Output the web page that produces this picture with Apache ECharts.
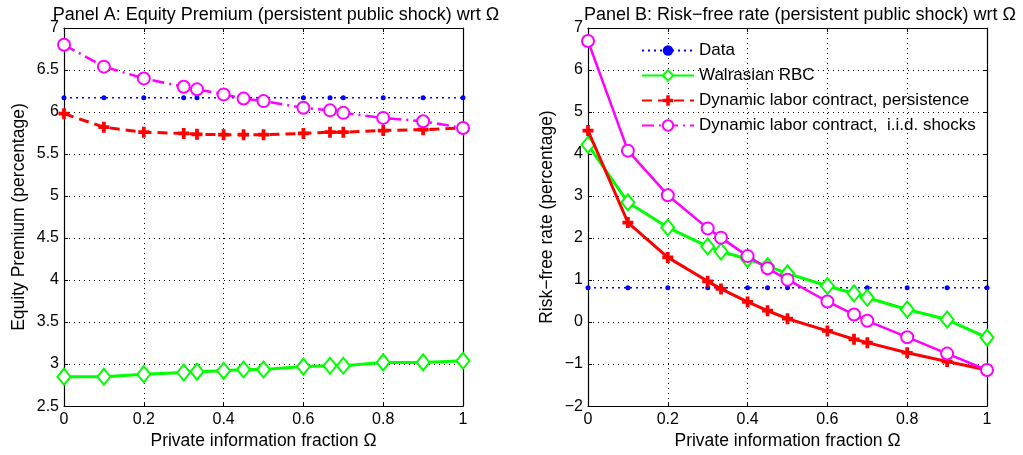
<!DOCTYPE html>
<html>
<head>
<meta charset="utf-8">
<script src="https://cdn.jsdelivr.net/npm/echarts@6/dist/echarts.min.js"></script>
<style>html,body{margin:0;padding:0;background:#fff}#c{width:1023px;height:455px}</style>
</head>
<body>
<div id="c"></div>
<script>
var omega = [0, 0.1, 0.2, 0.3, 0.3333, 0.4, 0.45, 0.5, 0.6, 0.6667, 0.7, 0.8, 0.9, 1];
var xTicks = [0, 0.2, 0.4, 0.6, 0.8, 1];
var seriesNames = ['Data', 'Walrasian RBC', 'Dynamic labor contract, persistence', 'Dynamic labor contract,  i.i.d. shocks'];

// Panel A: Equity premium
var epData = 6.17;
var epRBC = [2.85, 2.85, 2.88, 2.90, 2.91, 2.92, 2.935, 2.935, 2.97, 2.98, 2.98, 3.02, 3.02, 3.04];
var epPersist = [5.98, 5.82, 5.76, 5.745, 5.735, 5.73, 5.73, 5.73, 5.745, 5.76, 5.76, 5.78, 5.79, 5.81];
var epIid = [6.80, 6.54, 6.40, 6.30, 6.27, 6.21, 6.16, 6.13, 6.05, 6.02, 5.99, 5.93, 5.89, 5.81];

// Panel B: Risk-free rate
var rfData = 0.82;
var rfRBC = [4.22, 2.85, 2.25, 1.80, 1.68, 1.50, 1.33, 1.16, 0.86, 0.68, 0.58, 0.30, 0.06, -0.37];
var rfPersist = [4.56, 2.37, 1.54, 0.97, 0.79, 0.48, 0.27, 0.08, -0.21, -0.41, -0.49, -0.73, -0.94, -1.14];
var rfIid = [6.69, 4.08, 3.02, 2.23, 2.01, 1.57, 1.28, 1.01, 0.49, 0.18, 0.03, -0.36, -0.75, -1.14];

function pairs(ys) { return omega.map(function (x, i) { return [x, ys[i]]; }); }
function flat(v) { return omega.map(function (x) { return [x, v]; }); }

var FONT = 'Liberation Sans, Arial, sans-serif';
var plusPath = 'path://M3.3,0H6.7V3.3H10V6.7H6.7V10H3.3V6.7H0V3.3H3.3Z';
var grid = [
  {left: 64, right: 1023 - 463, top: 28, bottom: 455 - 407},
  {left: 588, right: 1023 - 987, top: 28, bottom: 455 - 407}
];

function xAx(gi, main) {
  return {
    type: 'value', gridIndex: gi, min: 0, max: 1, interval: 0.2,
    position: main ? 'bottom' : 'top',
    name: main ? 'Private information fraction Ω' : '',
    nameLocation: 'middle', nameGap: 24,
    nameTextStyle: {fontFamily: FONT, fontSize: 17.5, color: '#000'},
    axisLine: {show: true, onZero: false, lineStyle: {color: '#000', width: 1.2}},
    axisTick: {show: true, inside: true, length: 4, lineStyle: {color: '#000'}},
    axisLabel: {show: main, fontFamily: FONT, fontSize: 16, color: '#000', margin: 5,
      formatter: function (v) { return String(v); }},
    splitLine: {show: main, lineStyle: {color: '#000', type: [1, 4], width: 1}}
  };
}
function yAx(gi, main, min, max, interval, name, gap) {
  return {
    type: 'value', gridIndex: gi, min: min, max: max, interval: interval,
    position: main ? 'left' : 'right',
    name: main ? name : '',
    nameLocation: 'middle', nameGap: gap,
    nameTextStyle: {fontFamily: FONT, fontSize: 17.5, color: '#000'},
    axisLine: {show: true, onZero: false, lineStyle: {color: '#000', width: 1.2}},
    axisTick: {show: true, inside: true, length: 4, lineStyle: {color: '#000'}},
    axisLabel: {show: main, fontFamily: FONT, fontSize: 16, color: '#000', margin: 5,
      formatter: function (v) { return v < 0 ? '\u2212' + Math.abs(v) : String(v); }},
    splitLine: {show: main, lineStyle: {color: '#000', type: [1, 4], width: 1}}
  };
}

function mk(name, data, xi, yi, kind, lineType) {
  var s = {name: name, type: 'line', xAxisIndex: xi, yAxisIndex: yi, data: data, clip: false, animation: false};
  if (kind === 'data') {
    s.lineStyle = {color: '#0000ff', width: 1.5, type: [2, 4]};
    s.symbol = 'circle'; s.symbolSize = 5;
    s.itemStyle = {color: '#0000ff'};
    s.z = 2;
  } else if (kind === 'rbc') {
    s.lineStyle = {color: '#00ff00', width: 3, type: 'solid'};
    s.symbol = 'emptyDiamond'; s.symbolSize = [13, 16];
    s.itemStyle = {color: '#00ff00', borderColor: '#00ff00', borderWidth: 2.2};
    s.z = 3;
  } else if (kind === 'pers') {
    s.lineStyle = {color: '#ff0000', width: 3, type: lineType};
    s.symbol = plusPath; s.symbolSize = 11;
    s.itemStyle = {color: '#ff0000'};
    s.z = 4;
  } else {
    s.lineStyle = {color: '#ff00ff', width: 2.5, type: lineType};
    s.symbol = 'emptyCircle'; s.symbolSize = 12;
    s.itemStyle = {color: '#ff00ff', borderColor: '#ff00ff', borderWidth: 2.5};
    s.z = 5;
  }
  return s;
}

var dashDot = [12, 5, 2, 5];
var option = {
  animation: false,
  backgroundColor: '#fff',
  title: [
    {text: 'Panel A: Equity Premium (persistent public shock) wrt Ω', left: 271, top: 1, textAlign: 'center',
      textStyle: {fontFamily: FONT, fontSize: 18, fontWeight: 'normal', color: '#000'}},
    {text: 'Panel B: Risk\u2212free rate (persistent public shock) wrt Ω', left: 795, top: 1, textAlign: 'center',
      textStyle: {fontFamily: FONT, fontSize: 18, fontWeight: 'normal', color: '#000'}}
  ],
  grid: grid,
  xAxis: [xAx(0, true), xAx(0, false), xAx(1, true), xAx(1, false)],
  yAxis: [
    yAx(0, true, 2.5, 7, 0.5, 'Equity Premium (percentage)', 36),
    yAx(0, false, 2.5, 7, 0.5, '', 0),
    yAx(1, true, -2, 7, 1, 'Risk\u2212free rate (percentage)', 32),
    yAx(1, false, -2, 7, 1, '', 0)
  ],
  legend: {
    orient: 'vertical', left: 636, top: 36,
    itemWidth: 52, itemHeight: 13, itemGap: 6,
    textStyle: {fontFamily: FONT, fontSize: 17, color: '#000', lineHeight: 19},
    data: [
      {name: seriesNames[0], lineStyle: {type: [2, 4]}},
      {name: seriesNames[1], lineStyle: {type: 'solid'}},
      {name: seriesNames[2], lineStyle: {type: [10, 6]}},
      {name: seriesNames[3], lineStyle: {type: dashDot}}
    ],
    selectedMode: false
  },
  series: [
    mk(seriesNames[0], flat(epData), 0, 0, 'data'),
    mk(seriesNames[1], pairs(epRBC), 0, 0, 'rbc'),
    mk(seriesNames[2], pairs(epPersist), 0, 0, 'pers', [10, 6]),
    mk(seriesNames[3], pairs(epIid), 0, 0, 'iid', dashDot),
    mk(seriesNames[0], flat(rfData), 2, 2, 'data'),
    mk(seriesNames[1], pairs(rfRBC), 2, 2, 'rbc'),
    mk(seriesNames[2], pairs(rfPersist), 2, 2, 'pers', 'solid'),
    mk(seriesNames[3], pairs(rfIid), 2, 2, 'iid', 'solid')
  ]
};
var chart = echarts.init(document.getElementById('c'), null, {renderer: 'canvas'});
chart.setOption(option);
</script>
</body>
</html>
